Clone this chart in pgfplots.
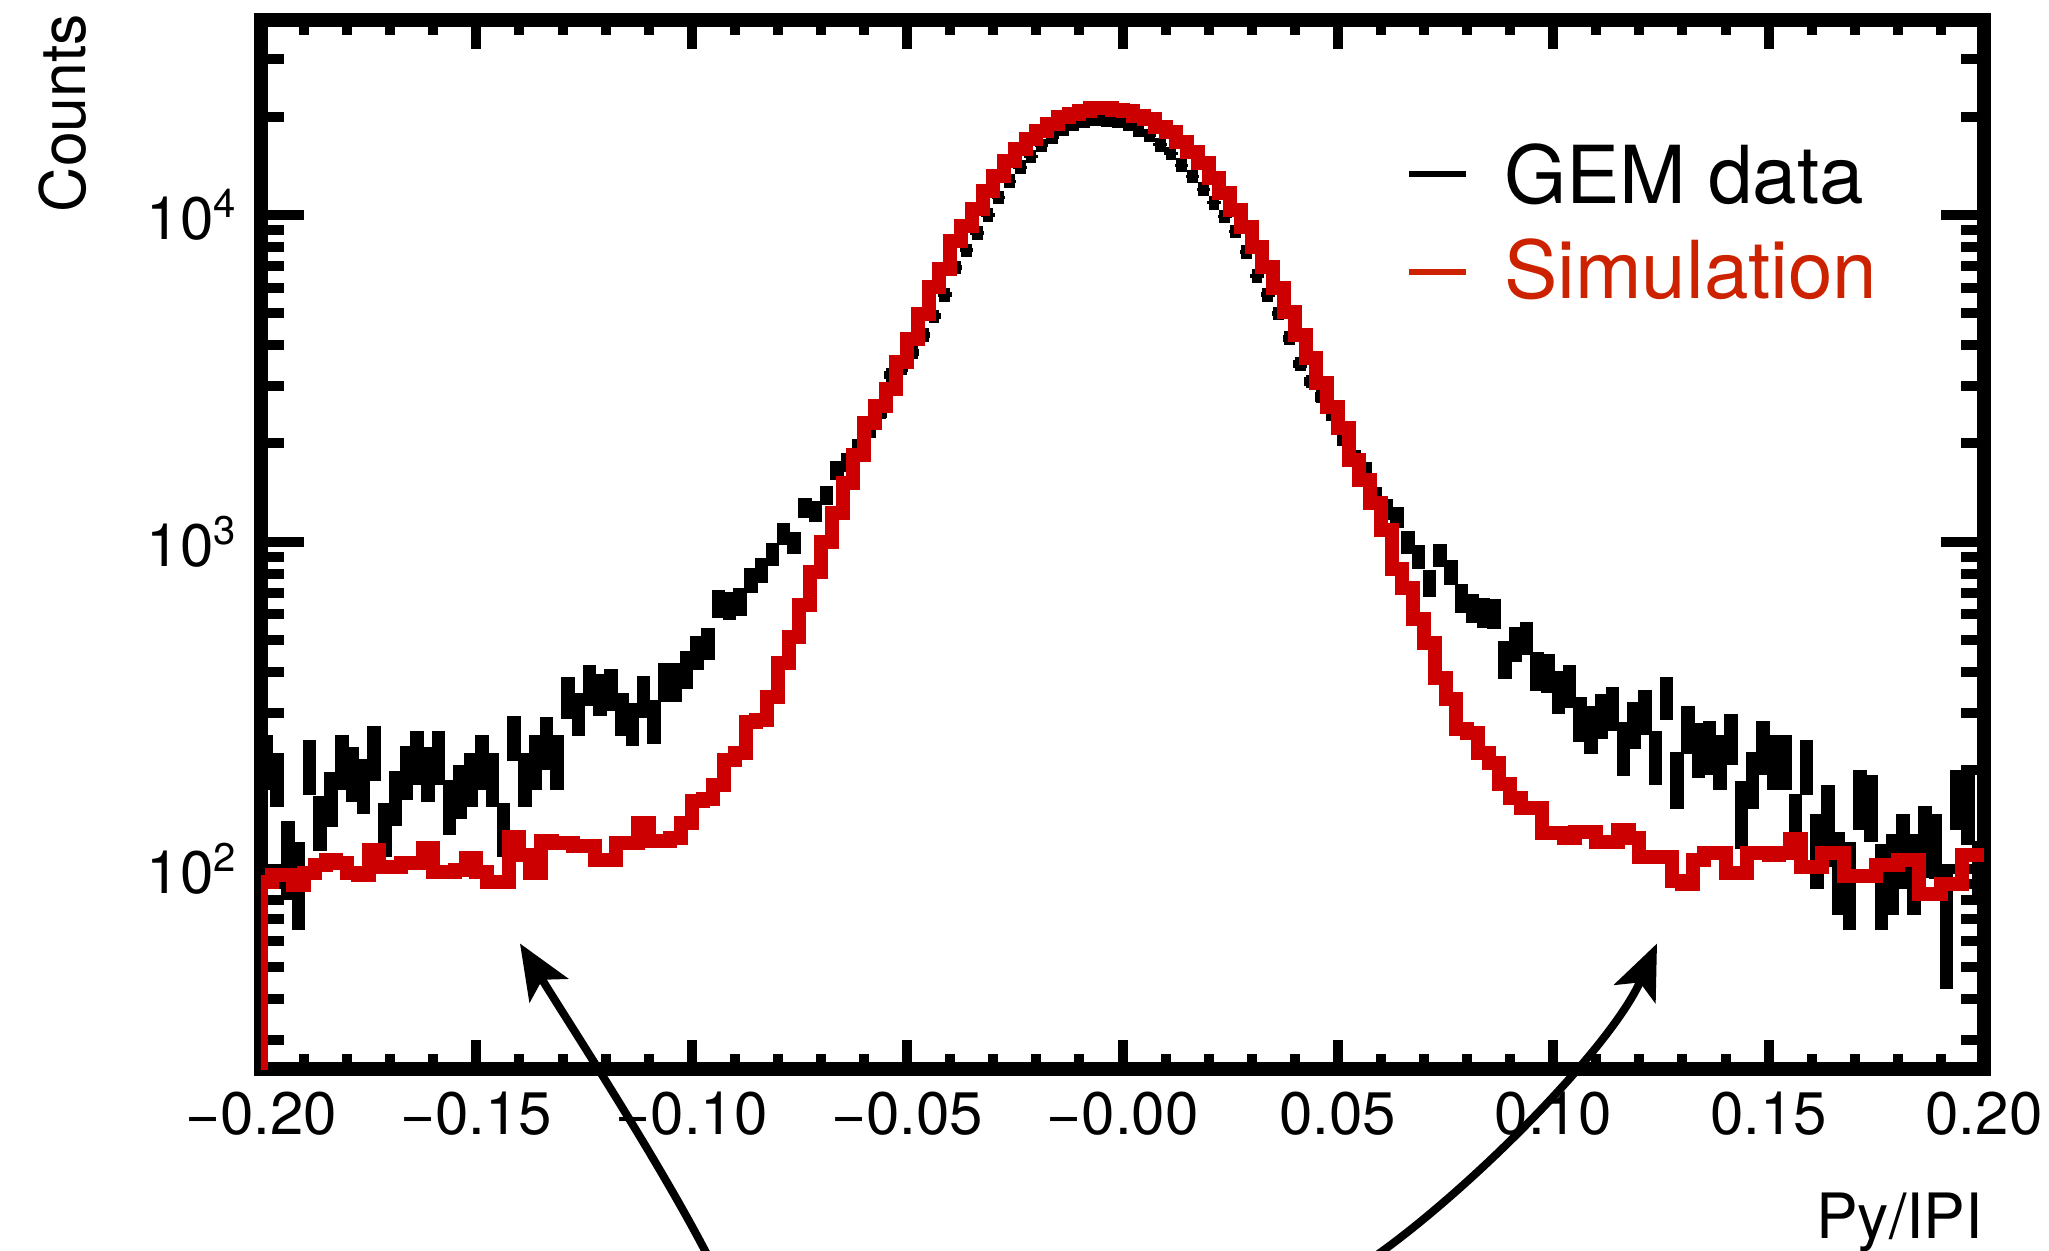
\documentclass[border=0pt]{standalone}
\usepackage{fontspec}
\setmainfont{TeX Gyre Heros}
\usepackage{pgfplots}
\pgfplotsset{compat=1.18}
\usepackage{pgfplotstable}
\usetikzlibrary{arrows.meta}
\definecolor{simred}{RGB}{204,0,0}
\definecolor{legred}{RGB}{204,34,0}

\pgfplotstableread{
x y
-0.2000 10
-0.2000 91
-0.1975 96
-0.1950 96
-0.1925 89
-0.1900 97
-0.1875 103
-0.1850 106
-0.1825 104
-0.1800 97
-0.1775 96
-0.1750 114
-0.1725 101
-0.1700 101
-0.1675 104
-0.1650 104
-0.1625 116
-0.1600 98
-0.1575 98
-0.1550 99
-0.1525 108
-0.1500 98
-0.1475 91
-0.1450 91
-0.1425 125
-0.1400 110
-0.1375 97
-0.1350 122
-0.1325 120
-0.1300 120
-0.1275 117
-0.1250 117
-0.1225 106
-0.1200 106
-0.1175 120
-0.1150 120
-0.1125 138
-0.1100 122
-0.1075 122
-0.1050 124
-0.1025 138
-0.1000 161
-0.0975 163
-0.0950 181
-0.0925 215
-0.0900 226
-0.0875 281
-0.0850 285
-0.0825 336
-0.0800 426
-0.0775 512
-0.0750 643
-0.0725 810
-0.0700 1000
-0.0675 1228
-0.0650 1517
-0.0625 1850
-0.0600 2310
-0.0575 2600
-0.0550 2938
-0.0525 3550
-0.0500 4180
-0.0475 4980
-0.0450 6025
-0.0425 6840
-0.0400 8320
-0.0375 9250
-0.0350 10430
-0.0325 11840
-0.0300 13150
-0.0275 14630
-0.0250 15920
-0.0225 17070
-0.0200 18060
-0.0175 18990
-0.0150 19950
-0.0125 20380
-0.0100 20800
-0.0075 21250
-0.0050 21250
-0.0025 21000
0.0000 20800
0.0025 20090
0.0050 19680
0.0075 18580
0.0100 17930
0.0125 16730
0.0150 15580
0.0175 14420
0.0200 12970
0.0225 11670
0.0250 10350
0.0275 9190
0.0300 7980
0.0325 6930
0.0350 5980
0.0375 5050
0.0400 4300
0.0425 3655
0.0450 3065
0.0475 2590
0.0500 2230
0.0525 1780
0.0550 1550
0.0575 1316
0.0600 1089
0.0625 827
0.0650 723
0.0675 582
0.0700 491
0.0725 384
0.0750 331
0.0775 268
0.0800 261
0.0825 226
0.0850 211
0.0875 182
0.0900 165
0.0925 153
0.0950 153
0.0975 129
0.1000 129
0.1025 124
0.1050 130
0.1075 130
0.1100 121
0.1125 121
0.1150 131
0.1175 124
0.1200 109
0.1225 109
0.1250 109
0.1275 92
0.1300 90
0.1325 106
0.1350 112
0.1375 112
0.1400 97
0.1425 97
0.1450 112
0.1475 112
0.1500 110
0.1525 112
0.1550 123
0.1575 101
0.1600 101
0.1625 112
0.1650 112
0.1675 95
0.1700 95
0.1725 95
0.1750 103
0.1775 103
0.1800 106
0.1825 106
0.1850 84
0.1875 84
0.1900 90
0.1925 90
0.1950 110
0.1975 110
0.2000 110
}\simtab

\pgfplotstableread{
x y e
-0.19875 215 41
-0.19625 190 36
-0.19375 110 30
-0.19125 93 28
-0.18875 208 40
-0.18625 140 27
-0.18375 166 32
-0.18125 215 41
-0.17875 198 38
-0.17625 182 35
-0.17375 230 44
-0.17125 134 25
-0.16875 167 32
-0.16625 200 38
-0.16375 222 42
-0.16125 198 38
-0.15875 222 42
-0.15625 157 30
-0.15375 175 33
-0.15125 190 36
-0.14875 215 41
-0.14625 190 36
-0.14375 134 25
-0.14125 253 40
-0.13875 190 36
-0.13625 215 41
-0.13375 246 45
-0.13125 215 41
-0.12875 337 50
-0.12625 300 45
-0.12375 367 52
-0.12125 343 50
-0.11875 355 52
-0.11625 300 45
-0.11375 280 42
-0.11125 340 50
-0.10875 285 44
-0.10625 375 52
-0.10375 375 52
-0.10125 410 55
-0.09875 460 55
-0.09625 490 55
-0.09375 650 65
-0.09125 640 64
-0.08875 660 65
-0.08625 765 68
-0.08375 820 70
-0.08125 920 75
-0.07875 1060 80
-0.07625 995 80
-0.07375 1270 90
-0.07125 1240 90
-0.06875 1390 95
-0.06625 1660 110
-0.06375 1750 115
-0.06125 1950 120
-0.05875 2200 120
-0.05625 2500 110
-0.05375 3240 100
-0.05125 3400 95
-0.04875 3800 95
-0.04625 4300 100
-0.04375 4900 100
-0.04125 5700 100
-0.03875 6900 110
-0.03625 7800 110
-0.03375 8800 110
-0.03125 10000 120
-0.02875 11300 120
-0.02625 12700 130
-0.02375 14000 140
-0.02125 15100 150
-0.01875 16300 160
-0.01625 17300 170
-0.01375 18300 180
-0.01125 18900 190
-0.00875 19400 190
-0.00625 19600 200
-0.00375 19500 200
-0.00125 19300 190
0.00125 18900 190
0.00375 18200 180
0.00625 17500 170
0.00875 16400 160
0.01125 15400 150
0.01375 14200 140
0.01625 13100 130
0.01875 12000 120
0.02125 10900 110
0.02375 9900 100
0.02625 8900 100
0.02875 7700 100
0.03125 6500 100
0.03375 5700 100
0.03625 5000 100
0.03875 4200 100
0.04125 3500 95
0.04375 3100 95
0.04625 2780 100
0.04875 2450 110
0.05125 2080 115
0.05375 1800 110
0.05625 1650 105
0.05875 1380 95
0.06125 1260 90
0.06375 1190 88
0.06625 1000 80
0.06875 900 75
0.07125 750 70
0.07375 910 75
0.07625 810 70
0.07875 675 68
0.08125 630 65
0.08375 610 63
0.08625 605 63
0.08875 440 58
0.09125 490 60
0.09375 510 60
0.09625 405 55
0.09875 400 55
0.10125 350 52
0.10375 365 55
0.10625 290 45
0.10875 270 45
0.11125 296 46
0.11375 312 48
0.11625 237 45
0.11875 278 45
0.12125 305 48
0.12375 222 42
0.12625 335 50
0.12875 190 38
0.13125 270 45
0.13375 235 45
0.13625 238 45
0.13875 215 41
0.14125 253 45
0.14375 150 35
0.14625 190 38
0.14875 238 45
0.15125 215 41
0.15375 215 41
0.15625 148 21
0.15875 208 40
0.16125 117 30
0.16375 141 40
0.16625 101 29
0.16875 93 28
0.17125 166 35
0.17375 157 36
0.17625 92 27
0.17875 100 28
0.18125 117 30
0.18375 100 28
0.18625 125 31
0.18875 120 27
0.19125 70 27
0.19375 166 35
0.19625 160 42
0.19875 100 22
}\gemtab

\begin{document}
\begin{tikzpicture}
\path[use as bounding box] (0pt,0pt) rectangle (409.8pt,250pt);
\begin{axis}[
  at={(52.2pt,36.2pt)}, anchor=south west,
  scale only axis, width=344.6pt, height=209.8pt,
  xmin=-0.2, xmax=0.2,
  ymode=log, ymin=24.4, ymax=39500,
  xtick={-0.2,-0.15,-0.1,-0.05,0,0.05,0.1,0.15,0.2},
  xticklabels={−0.20,−0.15,−0.10,−0.05,−0.00,0.05,0.10,0.15,0.20},
  minor x tick num=4,
  ytick={100,1000,10000},
  yticklabels={10\textsuperscript{2},10\textsuperscript{3},10\textsuperscript{4}},
  minor ytick={30,40,50,60,70,80,90,200,300,400,500,600,700,800,900,2000,3000,4000,5000,6000,7000,8000,9000,20000,30000},
  tick align=inside, tick pos=both,
  xticklabel pos=lower, yticklabel pos=left,
  axis line style={line width=2.7pt},
  every tick/.style={black, line width=2pt},
  xtick style={/pgfplots/major tick length=5.8pt,/pgfplots/minor tick length=3pt},
  ytick style={/pgfplots/major tick length=8.6pt,/pgfplots/minor tick length=4.6pt},
  tick label style={font=\fontsize{12}{14}\selectfont},
  xticklabel style={yshift=-1pt},
  yticklabel style={xshift=-1pt},
]
\addplot[draw=none, mark=none,
  error bars/.cd, x dir=both, x fixed=0.00125, y dir=both, y explicit,
  error mark=none, error bar style={draw=black, line width=2.7pt}]
  table[x=x, y=y, y error=e]{\gemtab};
\addplot[simred, line width=2.8pt, const plot] table[x=x, y=y]{\simtab};
\end{axis}
% legend
\draw[black, line width=1.1pt] (281.8pt,215.2pt) -- (293.2pt,215.2pt);
\node[anchor=base west, inner sep=0pt, font=\fontsize{16}{19}\selectfont] at (300.6pt,209.4pt) {GEM data};
\draw[legred, line width=1.1pt] (281.8pt,195.6pt) -- (293.2pt,195.6pt);
\node[anchor=base west, inner sep=0pt, text=legred, font=\fontsize{16}{19}\selectfont] at (300.6pt,190.4pt) {Simulation};
% axis titles
\node[rotate=90, anchor=base east, inner sep=0pt, font=\fontsize{12.5}{15}\selectfont] at (17pt,247.4pt) {Counts};
\node[anchor=base east, inner sep=0pt, font=\fontsize{12.5}{15}\selectfont] at (396.8pt,2.4pt) {Py/IPI};
% arrows
\draw[line width=1.6pt, -{Stealth[length=11pt,width=9pt,inset=2.5pt]}] (143pt,-4pt) .. controls (133pt,16pt) and (114pt,45pt) .. (104pt,61.3pt);
\draw[line width=1.6pt, -{Stealth[length=11pt,width=9pt,inset=2.5pt]}] (272.5pt,-3pt) .. controls (292pt,10pt) and (322pt,40pt) .. (331.4pt,61.3pt);
\end{tikzpicture}
\end{document}
